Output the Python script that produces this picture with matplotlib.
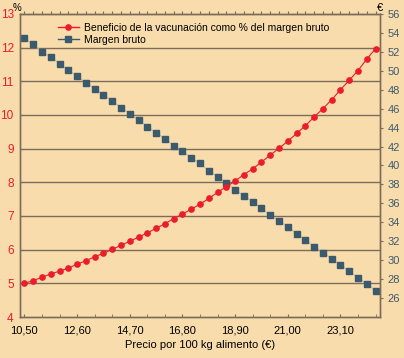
import numpy as np
import matplotlib.pyplot as plt
from matplotlib.lines import Line2D

plt.rcParams['font.family'] = ['Liberation Sans', 'DejaVu Sans']

# precio por 100 kg de alimento (categorias del eje x)
precio = [10.50, 10.85, 11.20, 11.55, 11.90, 12.25, 12.60, 12.95, 13.30, 13.65,
          14.00, 14.35, 14.70, 15.05, 15.40, 15.75, 16.10, 16.45, 16.80, 17.15,
          17.50, 17.85, 18.20, 18.55, 18.90, 19.25, 19.60, 19.95, 20.30, 20.65,
          21.00, 21.35, 21.70, 22.05, 22.40, 22.75, 23.10, 23.45, 23.80, 24.15,
          24.50]

# beneficio de la vacunacion (% del margen bruto), eje izquierdo
beneficio = [5.00, 5.08, 5.18, 5.28, 5.36, 5.45, 5.57, 5.67, 5.79, 5.89,
             6.01, 6.13, 6.25, 6.37, 6.50, 6.63, 6.77, 6.92, 7.06, 7.20,
             7.35, 7.52, 7.70, 7.87, 8.04, 8.23, 8.40, 8.60, 8.81, 9.01,
             9.22, 9.45, 9.68, 9.94, 10.19, 10.45, 10.75, 11.03, 11.32, 11.66,
             11.97]

# margen bruto (euros), eje derecho
margen = [53.43, 52.80, 51.99, 51.46, 50.75, 50.09, 49.45, 48.75, 48.11, 47.45,
          46.81, 46.11, 45.44, 44.81, 44.10, 43.47, 42.84, 42.09, 41.50, 40.83,
          40.21, 39.45, 38.81, 38.18, 37.45, 36.78, 36.18, 35.48, 34.77, 34.17,
          33.54, 32.80, 32.18, 31.43, 30.80, 30.16, 29.50, 28.83, 28.16, 27.53,
          26.78]

left_ticks = [4, 5, 6, 7, 8, 9, 10, 11, 12, 13]
right_ticks = list(range(26, 57, 2))

bg = '#f8dcab'
red = '#ec1c2a'
slate = '#3b5a6e'
frame = '#7c6c5c'

x = np.arange(len(precio))

fig = plt.figure(figsize=(4.04, 3.58), dpi=100, facecolor=bg)
ax1 = fig.add_axes([0.0495, 0.1145, 0.891, 0.8465])
ax2 = ax1.twinx()

# red series must sit above the squares
ax1.set_zorder(ax2.get_zorder() + 1)
ax1.patch.set_visible(False)
ax2.set_facecolor(bg)

ax1.set_xlim(-0.5, len(precio) - 0.5)
ax1.set_ylim(4, 13)
ax2.set_ylim(24, 56)

# horizontal grid from left axis, drawn under the squares
for v in left_ticks[1:-1]:
    ax2.plot([0, 1], [v, v], transform=ax1.get_yaxis_transform(),
             color=frame, lw=1.0, zorder=0.5)

ax2.plot(x, margen, color='#cdb699', lw=0.8, marker='s', markersize=5,
         markerfacecolor=slate, markeredgecolor=slate, zorder=2)
ax1.plot(x, beneficio, color=red, lw=0.8, marker='o', markersize=3.8,
         markerfacecolor=red, markeredgecolor=red, zorder=3)

for ax in (ax1, ax2):
    for s in ax.spines.values():
        s.set_color(frame)
        s.set_linewidth(1.0)

# x axis: labels every 6 categories, small ticks every 2
ax1.set_xticks(x[::6])
ax1.set_xticklabels([f"{p:.2f}".replace('.', ',') for p in precio[::6]])
ax1.set_xticks(x[::2], minor=True)
ax1.tick_params(axis='x', which='both', direction='in', length=2.5,
                color=frame, labelsize=8, pad=6)

top = ax1.secondary_xaxis('top')
top.set_xticks(x)
top.tick_params(axis='x', direction='out', length=2.5, color=frame,
                labeltop=False)
top.spines['top'].set_color(frame)

ax1.set_yticks(left_ticks)
ax1.tick_params(axis='y', direction='in', length=2, color=frame,
                labelcolor=red, labelsize=8.5, pad=4.5)

ax2.set_yticks(right_ticks)
ax2.tick_params(axis='y', direction='out', length=2.5, color=frame,
                labelcolor=slate, labelsize=8, pad=3)

ax1.set_xlabel('Precio por 100 kg alimento (€)', fontsize=8, labelpad=3)

fig.text(0.042, 0.978, '%', fontsize=7, ha='center', va='center')
fig.text(0.94, 0.978, '€', fontsize=8, ha='center', va='center')

handles = [
    Line2D([], [], color=red, lw=1, marker='o', markersize=3.8,
           markerfacecolor=red, markeredgecolor=red),
    Line2D([], [], color=slate, lw=1, marker='s', markersize=5,
           markerfacecolor=slate, markeredgecolor=slate),
]
ax1.legend(handles, ['Beneficio de la vacunación como % del margen bruto',
                     'Margen bruto'],
           loc='upper left', bbox_to_anchor=(0.105, 0.97), frameon=False,
           fontsize=7.5, handlelength=2.0, handletextpad=0.5,
           labelspacing=0.2, borderpad=0, borderaxespad=0)

fig.savefig('out.png', dpi=100, facecolor=bg)
